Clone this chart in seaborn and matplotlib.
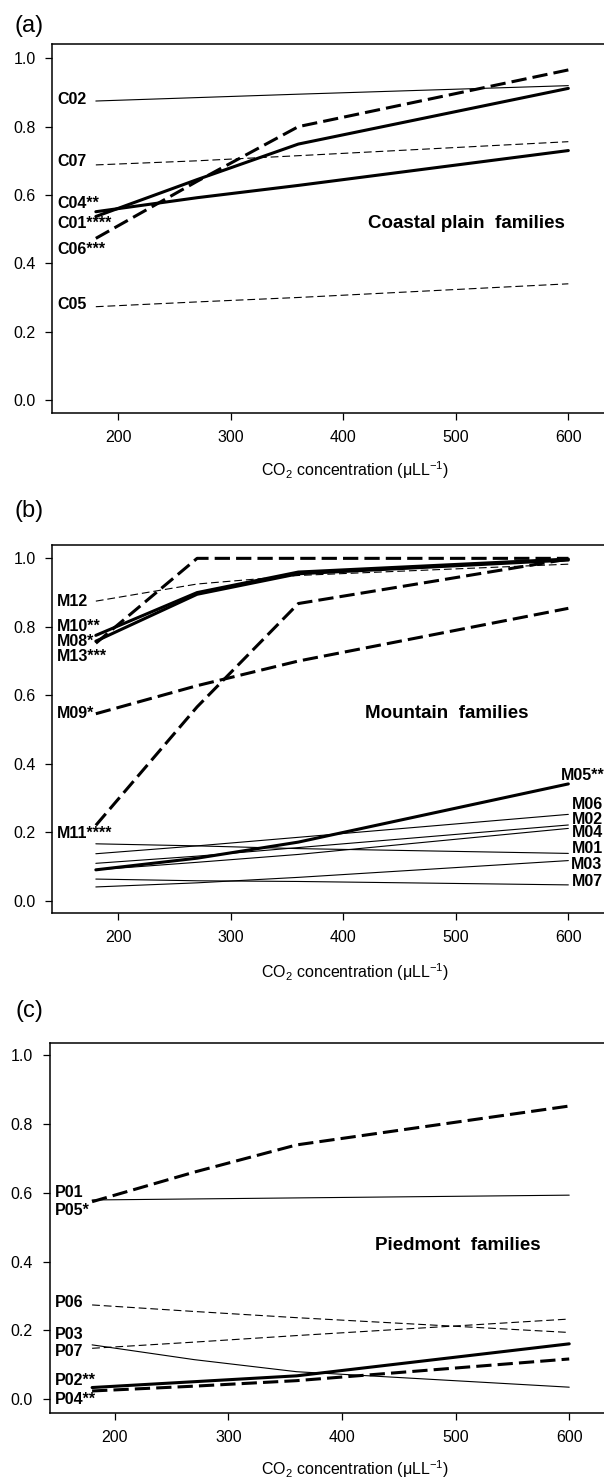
import matplotlib
matplotlib.use("Agg")
import matplotlib.pyplot as plt
import pandas as pd
import seaborn as sns

# CO2 levels (uL/L) and relative values per family
co2 = [180, 270, 360, 600]

# (a) coastal plain
c01 = [0.537, 0.645, 0.749, 0.912]
c02 = [0.875, 0.885, 0.895, 0.920]
c04 = [0.551, 0.592, 0.628, 0.730]
c05 = [0.273, 0.287, 0.300, 0.340]
c06 = [0.473, 0.640, 0.800, 0.966]
c07 = [0.688, 0.700, 0.715, 0.756]

# (b) mountain
m01 = [0.166, 0.160, 0.152, 0.138]
m02 = [0.109, 0.130, 0.155, 0.221]
m03 = [0.040, 0.052, 0.068, 0.117]
m04 = [0.090, 0.112, 0.135, 0.211]
m05 = [0.090, 0.124, 0.171, 0.341]
m06 = [0.137, 0.160, 0.185, 0.252]
m07 = [0.063, 0.058, 0.056, 0.046]
m08 = [0.758, 0.895, 0.955, 0.995]
m09 = [0.546, 0.628, 0.700, 0.854]
m10 = [0.775, 0.900, 0.960, 0.998]
m11 = [0.220, 0.566, 0.868, 0.998]
m12 = [0.875, 0.925, 0.950, 0.983]
m13 = [0.752, 1.000, 1.000, 1.000]

# (c) piedmont
p01 = [0.579, 0.582, 0.585, 0.593]
p02 = [0.034, 0.051, 0.068, 0.161]
p03 = [0.158, 0.115, 0.080, 0.035]
p04 = [0.024, 0.038, 0.054, 0.117]
p05 = [0.574, 0.660, 0.739, 0.852]
p06 = [0.274, 0.255, 0.237, 0.194]
p07 = [0.148, 0.166, 0.185, 0.233]

xticks = [200, 300, 400, 500, 600]
yticks = [0.0, 0.2, 0.4, 0.6, 0.8, 1.0]

# line kinds: thick/thin x solid/dashed
STYLE = {
    "thick": dict(lw=2.2, dashes=None),
    "thin": dict(lw=0.8, dashes=None),
    "thickdash": dict(lw=2.2, dashes=(5, 2)),
    "thindash": dict(lw=0.8, dashes=(7, 3.5)),
}

panels = [
    dict(
        tag="(a)", title="Coastal plain  families", title_xy=(509, 0.517),
        series={"C01": (c01, "thick"), "C02": (c02, "thin"), "C04": (c04, "thick"),
                "C05": (c05, "thindash"), "C06": (c06, "thickdash"), "C07": (c07, "thindash")},
        left_labels=[("C02", 0.878), ("C07", 0.698), ("C04**", 0.574),
                     ("C01****", 0.517), ("C06***", 0.441), ("C05", 0.278)],
        right_labels=[],
        box_px=(52.3, 44.3, 413.3), xlim=(141.3, 700), ylim=(-0.039, 1.041),
        xlabel_y=470, tag_y=26,
    ),
    dict(
        tag="(b)", title="Mountain  families", title_xy=(492, 0.548),
        series={"M01": (m01, "thin"), "M02": (m02, "thin"), "M03": (m03, "thin"),
                "M04": (m04, "thin"), "M05": (m05, "thick"), "M06": (m06, "thin"),
                "M07": (m07, "thin"), "M08": (m08, "thick"), "M09": (m09, "thickdash"),
                "M10": (m10, "thick"), "M11": (m11, "thickdash"), "M12": (m12, "thindash"),
                "M13": (m13, "thickdash")},
        left_labels=[("M12", 0.875), ("M10**", 0.800), ("M08*", 0.756),
                     ("M13***", 0.713), ("M09*", 0.546), ("M11****", 0.195)],
        right_labels=[("M05**", 0.367, 593), ("M06", 0.280, 603), ("M02", 0.236, 603),
                      ("M04", 0.200, 603), ("M01", 0.151, 603), ("M03", 0.107, 602),
                      ("M07", 0.055, 603)],
        box_px=(52.3, 545.0, 913.3), xlim=(141.3, 700), ylim=(-0.037, 1.039),
        xlabel_y=972, tag_y=511,
    ),
    dict(
        tag="(c)", title="Piedmont  families", title_xy=(502, 0.448),
        series={"P01": (p01, "thin"), "P02": (p02, "thick"), "P03": (p03, "thin"),
                "P04": (p04, "thickdash"), "P05": (p05, "thickdash"),
                "P06": (p06, "thindash"), "P07": (p07, "thindash")},
        left_labels=[("P01", 0.600), ("P05*", 0.548), ("P06", 0.281), ("P03", 0.187),
                     ("P07", 0.140), ("P02**", 0.054), ("P04**", -0.002)],
        right_labels=[],
        box_px=(49.5, 1042.7, 1413.0), xlim=(142.5, 700), ylim=(-0.040, 1.036),
        xlabel_y=1469, tag_y=1011,
    ),
]

sns.set_style("ticks", rc={"text.color": "black", "axes.labelcolor": "black",
                           "xtick.color": "black", "ytick.color": "black",
                           "axes.edgecolor": "black"})
plt.rcParams["font.family"] = ["Liberation Sans", "DejaVu Sans"]
plt.rcParams["mathtext.fontset"] = "custom"
plt.rcParams["mathtext.rm"] = "Liberation Sans"
plt.rcParams["mathtext.it"] = "Liberation Sans:italic"
plt.rcParams["mathtext.bf"] = "Liberation Sans:bold"

W, H = 604, 1481
fig = plt.figure(figsize=(W / 100, H / 100), dpi=100)

for p in panels:
    left, top, bottom = p["box_px"]
    xpx = 1.125 if p["tag"] != "(c)" else 1.136
    width = (p["xlim"][1] - p["xlim"][0]) * xpx
    ax = fig.add_axes([left / W, 1 - bottom / H, width / W, (bottom - top) / H])

    rows = []
    for fam, (vals, kind) in p["series"].items():
        for x, y in zip(co2, vals):
            rows.append(dict(co2=x, value=y, family=fam, kind=kind))
    df = pd.DataFrame(rows)

    for fam, sub in df.groupby("family", sort=False):
        st = STYLE[sub["kind"].iloc[0]]
        line_kw = dict(color="black", linewidth=st["lw"])
        if st["dashes"]:
            line_kw["dashes"] = st["dashes"]
        sns.lineplot(data=sub, x="co2", y="value", ax=ax, estimator=None,
                     sort=False, legend=False, **line_kw)

    lab_x = p["xlim"][0] + 5 / xpx
    for text, y in p["left_labels"]:
        ax.text(lab_x, y, text, fontsize=11.5, fontweight="bold",
                ha="left", va="center", color="black")
    for text, y, x in p["right_labels"]:
        ax.text(x, y, text, fontsize=11.5, fontweight="bold",
                ha="left", va="center", color="black", clip_on=False)

    tx, ty = p["title_xy"]
    ax.text(tx, ty, p["title"], fontsize=13.5, fontweight="bold",
            ha="center", va="center", color="black")

    ax.set_xlim(*p["xlim"])
    ax.set_ylim(*p["ylim"])
    ax.set_xticks(xticks)
    ax.set_yticks(yticks)
    ax.set_yticklabels([f"{v:.1f}" for v in yticks])
    ax.tick_params(direction="out", length=5, width=0.9, labelsize=11.5,
                   pad=7, colors="black")
    for s in ax.spines.values():
        s.set_linewidth(1.1)
        s.set_color("black")

    ax.set_ylabel("")
    ax.set_xlabel(r"CO$_2$ concentration (μLL$^{-1}$)", fontsize=11.5)
    ax.xaxis.label.set_verticalalignment("center")
    ax.xaxis.set_label_coords((355 - left) / width,
                              -(p["xlabel_y"] - bottom) / (bottom - top))

    fig.text(29 / W, 1 - p["tag_y"] / H, p["tag"], fontsize=17,
             ha="center", va="center", color="black")

fig.savefig("out.png", dpi=100)
